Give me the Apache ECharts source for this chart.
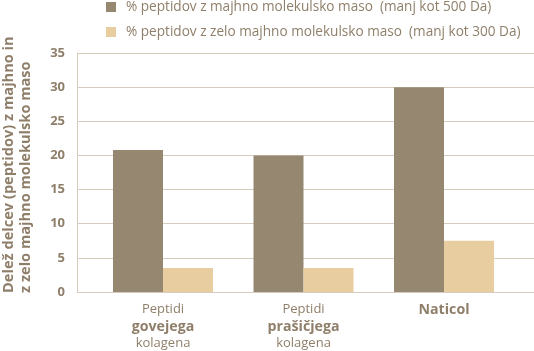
<!DOCTYPE html>
<html><head><meta charset="utf-8">
<script src="https://cdn.jsdelivr.net/npm/echarts@6/dist/echarts.min.js"></script>
<style>html,body{margin:0;padding:0;background:#fff}#c{width:534px;height:351px}</style>
</head><body><div id="c"></div>
<script>
const categories = ['Peptidi govejega kolagena', 'Peptidi prašičjega kolagena', 'Naticol'];
const seriesNames = ['% peptidov z majhno molekulsko maso  (manj kot 500 Da)', '% peptidov z zelo majhno molekulsko maso  (manj kot 300 Da)'];
const under500 = [20.8, 20, 30];
const under300 = [3.5, 3.5, 7.5];
const yTitle = ['Delež delcev (peptidov) z majhno in', 'z zelo majhno molekulsko maso'];
const labelFormats = {
  'Peptidi govejega kolagena': '{a|Peptidi}\n{b|govejega}\n{a|kolagena}',
  'Peptidi prašičjega kolagena': '{a|Peptidi}\n{b|prašičjega}\n{a|kolagena}',
  'Naticol': '{b|Naticol}'
};
const FONT = '"Open Sans", sans-serif';
const TXT = '#8f7f6a';
const LINE = '#d6cbbc';
const chart = echarts.init(document.getElementById('c'), null, {renderer: 'canvas'});
chart.setOption({
  animation: false,
  textStyle: {fontFamily: FONT},
  legend: {
    orient: 'vertical', left: 106, top: 0, padding: 0, itemWidth: 10, itemHeight: 10, itemGap: 11,
    icon: 'rect',
    textStyle: {fontFamily: FONT, fontSize: 13.6, color: TXT, lineHeight: 13, padding: [0,0,0,5]},
    data: seriesNames
  },
  grid: [
    {left: 77, right: 0, top: 53, bottom: 59},
    {left: 92.75, right: 19.75, top: 53, bottom: 59}
  ],
  xAxis: [
    {gridIndex: 0, type: 'category', data: categories, axisLine: {show: false}, axisTick: {show: false}, axisLabel: {show: false}},
    {gridIndex: 1, type: 'category', data: categories, axisLine: {show: false}, axisTick: {show: false},
     axisLabel: {margin: 9, interval: 0, formatter: v => labelFormats[v],
       rich: {
         a: {fontFamily: FONT, fontSize: 13, color: TXT, lineHeight: 17, align: 'center'},
         b: {fontFamily: FONT, fontSize: 14.2, fontWeight: 'bold', color: TXT, lineHeight: 17, align: 'center'}
       }}}
  ],
  yAxis: [
    {gridIndex: 0, type: 'value', min: 0, max: 35, interval: 5,
     axisLine: {show: true, lineStyle: {color: LINE, width: 1}}, axisTick: {show: false},
     splitLine: {show: true, lineStyle: {color: LINE, width: 1}},
     axisLabel: {margin: 12, fontFamily: FONT, fontSize: 13, fontWeight: 'bold', color: TXT}},
    {gridIndex: 1, type: 'value', min: 0, max: 35, interval: 5, show: false, splitLine: {show: false}}
  ],
  graphic: [
    {type: 'text', x: 9, y: 293, rotation: Math.PI / 2,
     style: {text: yTitle[0], font: 'bold 14.6px "Open Sans", sans-serif', fill: TXT, align: 'left', verticalAlign: 'middle'}},
    {type: 'text', x: 26, y: 293, rotation: Math.PI / 2,
     style: {text: yTitle[1], font: 'bold 14.6px "Open Sans", sans-serif', fill: TXT, align: 'left', verticalAlign: 'middle'}}
  ],
  series: [
    {name: seriesNames[0], type: 'bar', xAxisIndex: 1, yAxisIndex: 1, data: under500, barWidth: 50, barGap: '0%', itemStyle: {color: '#968770'}},
    {name: seriesNames[1], type: 'bar', xAxisIndex: 1, yAxisIndex: 1, data: under300, barWidth: 50, barGap: '0%', itemStyle: {color: '#e8cda0'}}
  ]
});
</script></body></html>
